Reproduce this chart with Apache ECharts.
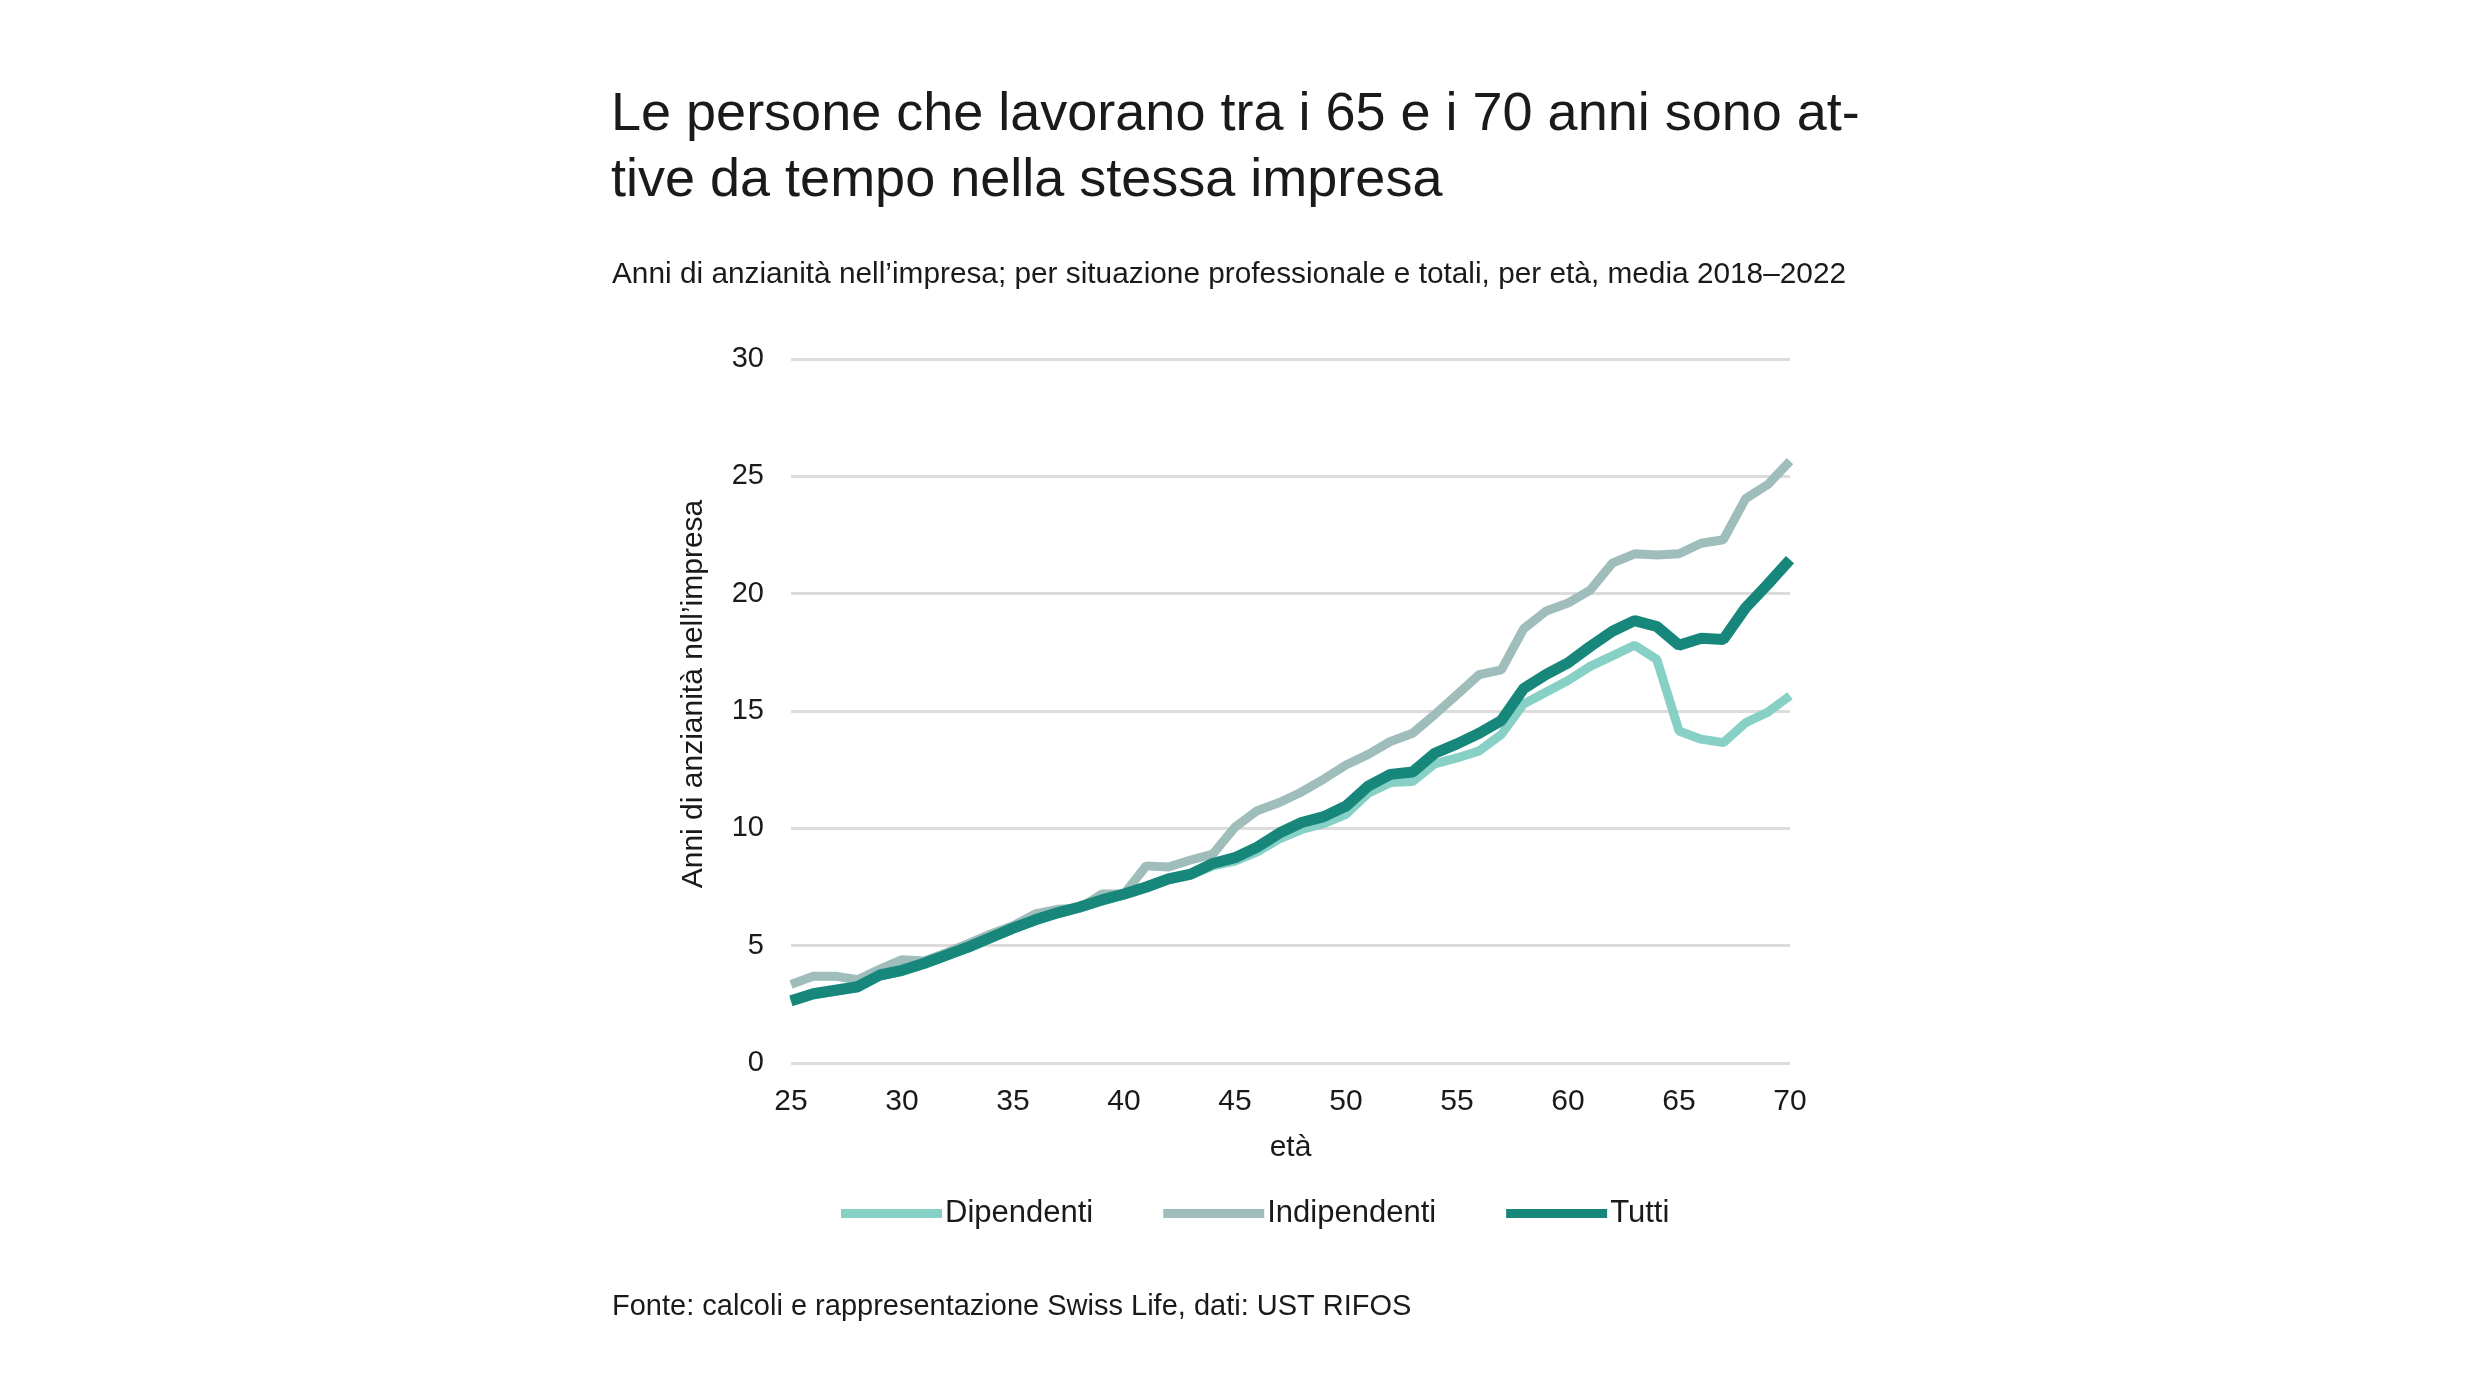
<!DOCTYPE html>
<html>
<head>
<meta charset="utf-8">
<title>Anzianità nell'impresa</title>
<script src="https://cdn.jsdelivr.net/npm/echarts@6/dist/echarts.min.js"></script>
<style>
html, body { margin: 0; padding: 0; background: #fff; }
#chart { width: 2480px; height: 1395px; }
</style>
</head>
<body>
<div id="chart"></div>
<script>
// età
const ages = [25, 26, 27, 28, 29, 30, 31, 32, 33, 34, 35, 36, 37, 38, 39, 40,
  41, 42, 43, 44, 45, 46, 47, 48, 49, 50, 51, 52, 53, 54, 55, 56, 57, 58, 59, 60,
  61, 62, 63, 64, 65, 66, 67, 68, 69, 70]

const dipendenti = [2.6, 2.9, 3.05, 3.2, 3.7, 3.9, 4.2, 4.55, 4.9, 5.3, 5.7, 6.05,
  6.35, 6.6, 6.9, 7.15, 7.45, 7.8, 8.0, 8.4, 8.6, 9.0, 9.55, 9.95, 10.2, 10.6,
  11.5, 11.95, 12.0, 12.75, 13.0, 13.3, 14.0, 15.3, 15.8, 16.3, 16.9, 17.35,
  17.8, 17.2, 14.15, 13.8, 13.65, 14.5, 14.95, 15.65]

const indipendenti = [3.35, 3.7, 3.7, 3.55, 4.0, 4.4, 4.35, 4.7, 5.1, 5.5, 5.85,
  6.35, 6.55, 6.6, 7.2, 7.2, 8.4, 8.35, 8.65, 8.9, 10.05, 10.75, 11.1, 11.55,
  12.1, 12.7, 13.15, 13.7, 14.05, 14.85, 15.7, 16.55, 16.75, 18.5, 19.25, 19.6,
  20.15, 21.3, 21.7, 21.65, 21.7, 22.15, 22.3, 24.05, 24.65, 25.65]

const tutti = [2.65, 2.95, 3.1, 3.25, 3.75, 3.95, 4.25, 4.6, 4.95, 5.35, 5.75, 6.1,
  6.4, 6.65, 6.95, 7.2, 7.5, 7.85, 8.05, 8.5, 8.75, 9.2, 9.8, 10.25, 10.5, 10.95,
  11.8, 12.3, 12.4, 13.2, 13.6, 14.05, 14.6, 15.95, 16.55, 17.05, 17.75, 18.4,
  18.85, 18.6, 17.8, 18.1, 18.05, 19.4, 20.4, 21.45]

const FONT = '"Liberation Sans Narrow", "Liberation Sans", sans-serif'
const pairs = vals => ages.map((a, i) => [a, vals[i]])

const chart = echarts.init(document.getElementById('chart'))
chart.setOption({
  backgroundColor: '#fff',
  animation: false,
  title: [
    {
      text: 'Le persone che lavorano tra i 65 e i 70 anni sono at-\ntive da tempo nella stessa impresa',
      left: 606,
      top: 77,
      textStyle: { fontFamily: FONT, fontSize: 54, fontWeight: 'normal', color: '#1a1a1a', lineHeight: 66 }
    },
    {
      text: 'Anni di anzianità nell’impresa; per situazione professionale e totali, per età, media 2018–2022',
      left: 607,
      top: 255,
      textStyle: { fontFamily: FONT, fontSize: 29.8, fontWeight: 'normal', color: '#1a1a1a' }
    },
    {
      text: 'Fonte: calcoli e rappresentazione Swiss Life, dati: UST RIFOS',
      left: 607,
      top: 1287,
      textStyle: { fontFamily: FONT, fontSize: 29, fontWeight: 'normal', color: '#1a1a1a' }
    }
  ],
  legend: {
    left: 836,
    top: 1193,
    icon: 'rect',
    itemWidth: 101,
    itemHeight: 9,
    itemGap: 70,
    textStyle: { fontFamily: FONT, fontSize: 31, color: '#1a1a1a', padding: [0, 0, 0, -2] },
    data: ['Dipendenti', 'Indipendenti', 'Tutti']
  },
  grid: { left: 791, right: 690, top: 359, bottom: 332 },
  xAxis: {
    type: 'value',
    min: 25,
    max: 70,
    interval: 5,
    name: 'età',
    nameLocation: 'middle',
    nameGap: 70,
    nameTextStyle: { fontFamily: FONT, fontSize: 30, color: '#1a1a1a' },
    axisLine: { show: false },
    axisTick: { show: false },
    splitLine: { show: false },
    axisLabel: { fontFamily: FONT, fontSize: 30, color: '#1a1a1a', margin: 24 }
  },
  yAxis: {
    type: 'value',
    min: 0,
    max: 30,
    interval: 5,
    name: 'Anni di anzianità nell’impresa',
    nameLocation: 'middle',
    nameGap: 82,
    nameTextStyle: { fontFamily: FONT, fontSize: 30, color: '#1a1a1a', padding: [0, 0, 0, 34] },
    axisLine: { show: false },
    axisTick: { show: false },
    axisLabel: { fontFamily: FONT, fontSize: 29, color: '#1a1a1a', margin: 27 },
    splitLine: { lineStyle: { color: '#dcdcdc', width: 3 } }
  },
  series: [
    {
      name: 'Dipendenti',
      type: 'line',
      data: pairs(dipendenti),
      showSymbol: false,
      lineStyle: { width: 9, color: '#86d0c5' },
      itemStyle: { color: '#86d0c5' }
    },
    {
      name: 'Indipendenti',
      type: 'line',
      data: pairs(indipendenti),
      showSymbol: false,
      lineStyle: { width: 9, color: '#9fbdbb' },
      itemStyle: { color: '#9fbdbb' }
    },
    {
      name: 'Tutti',
      type: 'line',
      data: pairs(tutti),
      showSymbol: false,
      lineStyle: { width: 11, color: '#17877b' },
      itemStyle: { color: '#17877b' }
    }
  ]
})
</script>
</body>
</html>
